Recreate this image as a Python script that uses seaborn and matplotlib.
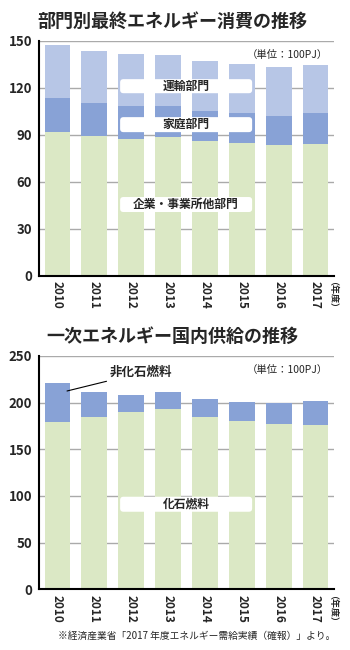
import matplotlib
matplotlib.use("Agg")
import matplotlib.pyplot as plt
from matplotlib.patches import FancyBboxPatch
import seaborn as sns
import pandas as pd

# ---- data (unit: 100PJ) ----
years = ["2010", "2011", "2012", "2013", "2014", "2015", "2016", "2017"]

# final energy consumption by sector
industry = [91.7, 89.3, 87.4, 88.3, 85.9, 84.9, 83.2, 83.8]
household = [21.7, 20.9, 21.0, 20.0, 19.2, 18.8, 19.1, 20.0]
transport = [33.9, 33.1, 33.3, 32.6, 31.9, 31.6, 31.3, 31.1]

# primary domestic energy supply
fossil = [179.3, 185.0, 190.3, 192.8, 184.3, 180.3, 176.8, 175.7]
non_fossil = [41.4, 26.1, 17.9, 18.3, 19.3, 20.7, 22.8, 26.1]

sector_labels = ["運輸部門", "家庭部門", "企業・事業所他部門"]
supply_labels = ["非化石燃料", "化石燃料"]
title_top = "部門別最終エネルギー消費の推移"
title_bottom = "一次エネルギー国内供給の推移"
unit_text = "（単位：100PJ）"
year_unit = "（年度）"
source_text = "※経済産業省「2017 年度エネルギー需給実績（確報）」より。"

# ---- style ----
sns.set_theme(style="white")
plt.rcParams["font.family"] = ["Noto Sans CJK JP", "DejaVu Sans"]

C_LIGHT = "#b7c6e6"
C_MID = "#88a2d6"
C_GREEN = "#dbe8c5"
C_GRID = "#aaaaaa"

fig = plt.figure(figsize=(3.5, 6.5), dpi=100)
fig.patch.set_facecolor("white")

ax1 = fig.add_axes([39 / 350, 1 - 275.5 / 650, 295 / 350, 234.5 / 650])
ax2 = fig.add_axes([39 / 350, 1 - 589.3 / 650, 295 / 350, 233.3 / 650])

mid_top = [a + b for a, b in zip(industry, household)]
total_top = [a + b for a, b in zip(mid_top, transport)]
total_bottom = [a + b for a, b in zip(fossil, non_fossil)]

df1 = pd.DataFrame({"year": years, "industry": industry,
                    "mid": mid_top, "total": total_top})
df2 = pd.DataFrame({"year": years, "fossil": fossil, "total": total_bottom})

bar_kw = dict(width=0.7, saturation=1, linewidth=0)
sns.barplot(data=df1, x="year", y="total", color=C_LIGHT, ax=ax1, **bar_kw)
sns.barplot(data=df1, x="year", y="mid", color=C_MID, ax=ax1, **bar_kw)
sns.barplot(data=df1, x="year", y="industry", color=C_GREEN, ax=ax1, **bar_kw)

sns.barplot(data=df2, x="year", y="total", color=C_MID, ax=ax2, **bar_kw)
sns.barplot(data=df2, x="year", y="fossil", color=C_GREEN, ax=ax2, **bar_kw)


def style_axes(ax, ymax, step):
    ax.set_xlim(-0.5, 7.5)
    ax.set_ylim(0, ymax)
    ax.set_yticks(range(0, ymax + 1, step))
    ax.set_axisbelow(True)
    ax.yaxis.grid(True, color=C_GRID, linewidth=1.0)
    ax.xaxis.grid(False)
    ax.set_xlabel("")
    ax.set_ylabel("")
    for s in ["top", "right"]:
        ax.spines[s].set_visible(False)
    for s in ["left", "bottom"]:
        ax.spines[s].set_color("black")
        ax.spines[s].set_linewidth(1.5)
    ax.tick_params(axis="y", length=0, pad=5, labelsize=9.5)
    ax.tick_params(axis="x", length=0, pad=4, labelsize=8.5, rotation=270)
    for lab in ax.get_yticklabels():
        lab.set_fontweight("bold")
    for lab in ax.get_xticklabels():
        lab.set_fontweight("bold")
        lab.set_ha("center")
        lab.set_va("top")
    ax.text(7.33, -ymax * 0.025, year_unit, rotation=270,
            ha="center", va="top", fontsize=6.5, fontweight="bold",
            clip_on=False)
    ax.text(0.98, 0.94, unit_text, transform=ax.transAxes, ha="right",
            va="center", fontsize=7.5)


style_axes(ax1, 150, 30)
style_axes(ax2, 250, 50)


def label_box(ax, y0, y1, text, aspect):
    box = FancyBboxPatch((1.70, y0), 3.58, y1 - y0,
                         boxstyle="round,pad=0,rounding_size=0.09",
                         mutation_aspect=aspect, facecolor="white",
                         edgecolor="none", zorder=5)
    ax.add_patch(box)
    ax.text(3.49, (y0 + y1) / 2, text, ha="center", va="center",
            fontsize=8.5, fontweight="bold", zorder=6)


asp1 = 36.875 / 1.563
asp2 = 36.875 / 0.9333
label_box(ax1, 116.6, 125.6, sector_labels[0], asp1)
label_box(ax1, 91.7, 101.3, sector_labels[1], asp1)
label_box(ax1, 40.6, 50.2, sector_labels[2], asp1)
label_box(ax2, 83.1, 99.2, supply_labels[1], asp2)

ax2.annotate(supply_labels[0], xy=(0.26, 212.5), xytext=(1.42, 232),
             ha="left", va="center", fontsize=9, fontweight="bold",
             arrowprops=dict(arrowstyle="-", color="black", lw=0.8,
                             shrinkA=0, shrinkB=0))

fig.text(0.492, 1 - 21 / 650, title_top, ha="center", va="center",
         fontsize=13, fontweight="bold")
fig.text(0.492, 1 - 336 / 650, title_bottom, ha="center", va="center",
         fontsize=13, fontweight="bold")
fig.text(335 / 350, 1 - 636 / 650, source_text, ha="right", va="center",
         fontsize=7)

fig.savefig("out.png", dpi=100)
